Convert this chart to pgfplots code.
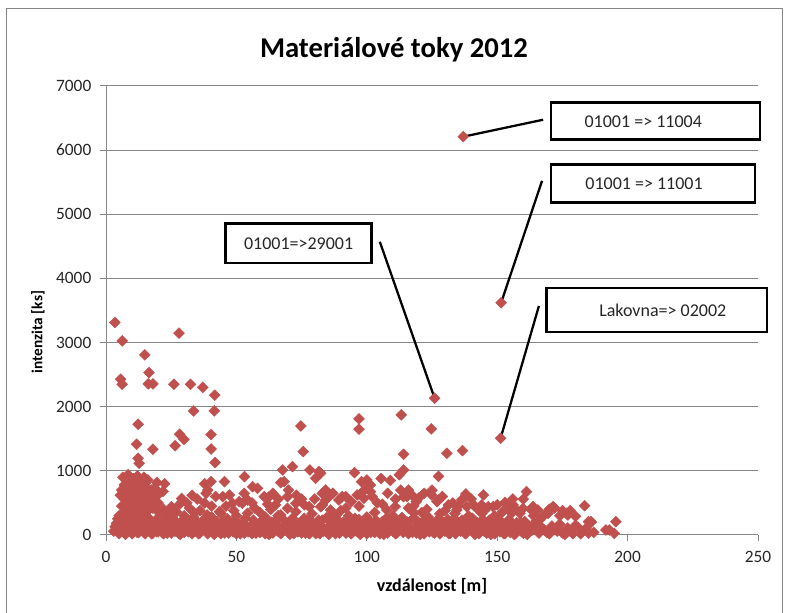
\documentclass[border=0pt]{standalone}
\usepackage{fontspec}
\setmainfont{Carlito}
\usepackage{pgfplots}
\pgfplotsset{compat=1.18}
\definecolor{mred}{RGB}{192,80,77}
\definecolor{gridgray}{RGB}{134,134,134}
\begin{document}
\begin{tikzpicture}
\path[use as bounding box] (0,0) rectangle (588.75pt,459.75pt);
\draw[gridgray, line width=0.75pt] (4.5pt,-5pt) -- (4.5pt,453pt) -- (586.5pt,453pt) -- (586.5pt,-5pt);
\begin{axis}[
  scale only axis, width=489pt, height=336.75pt,
  at={(79.5pt,58.5pt)}, anchor=south west,
  xmin=0, xmax=250, ymin=0, ymax=7000,
  xtick={0,50,100,150,200,250}, ytick={0,1000,2000,3000,4000,5000,6000,7000},
  axis x line*=bottom, axis y line*=left,
  axis line style={gridgray, line width=0.75pt, -},
  tick align=outside, major tick length=4.5pt,
  tick style={gridgray, line width=0.75pt},
  ymajorgrids, grid style={gridgray, line width=0.75pt},
  /pgf/number format/assume math mode=true,
  /pgf/number format/1000 sep={},
  tick label style={font=\fontsize{13}{15}\selectfont, text=black!85},
  yticklabel style={xshift=-3pt},
  xticklabel style={yshift=-4.5pt},
  clip=false,
]
\addplot[only marks, mark=square*, mark size=2.9pt,
  mark options={fill=mred, draw=mred, line width=0.3pt, rotate=45}]
table {
x y
137 6210
151.5 3620
126 2132
151.3 1508
113.2 1872
124.7 1654
130.7 1274
136.7 1315
114.1 1258
114.1 1014
97 1810
97 1649
74.7 1700
75.6 1300
3.4 3312
6.2 3026
5.6 2429
6.2 2350
14.9 2808
16.5 2532
16.2 2355
18.0 2355
28.0 3146
26 2350
32.4 2350
37.1 2303
41.7 2179
33.6 1934
41.5 1934
12.3 1727
11.7 1415
12.3 1196
12.7 1118
18.0 1337
26.5 1390
28.2 1570
29.9 1492
40.3 1565
40.3 1340
41.8 1130
127.5 915
5 300
5.5 620
6 450
6.5 900
7 780
7.5 380
8 650
8.5 940
8.5 520
9 820
9.5 300
10 580
10.4 700
10.5 880
11 760
11.1 480
11.5 380
12 920
12 600
12.5 280
13 800
13 520
13.5 420
14 700
14.5 900
14.9 620
15 340
15.5 740
16 860
16 480
16.5 560
17.5 700
18 420
18.7 730
18.7 500
19 600
20 360
20.5 650
21.9 680
22.5 800
25.1 440
24 330
27 360
28 470
29 570
30 300
31 500
32 420
33 620
34 340
35 560
36 380
37.8 800
38.4 650
37.8 500
39 700
38.8 312
40.3 832
40.5 450
42 600
43.5 364
44.8 598
45.4 832
44.1 338
6 700
7 560
8 300
9 420
9.5 760
10 640
11 860
12 700
13 350
14 480
15 800
16 650
17 420
18 580
19.5 820
20 500
22 400
23 300
47.3 624
48.5 494
51.1 520
52.3 494
53.1 910
54.3 546
54.3 338
56.2 753
58.1 728
60.7 598
62.6 598
63.2 400
66 300
67 312
67 816
67.7 1014
68.3 832
69.6 598
69.6 416
71.5 1066
72.8 494
72.8 364
76.0 260
77.9 442
78.2 1014
80.4 884
81.7 988
82.3 962
82.3 442
82.9 650
84.2 546
84.2 702
84.9 572
86.1 390
89.3 546
90.6 598
91.9 598
93 300
95.3 972
96.3 624
97.8 650
98 832
100 858
98.9 572
99.1 702
101.4 780
101.4 676
103 350
105.5 880
107.7 390
109 850
110.9 442
112.5 940
114.1 598
115.4 598
117.3 624
57 420
61 280
75 560
88 300
104 500
79 330
92 420
50 300
65 470
85 260
100 280
110 300
118 350
46 450
49 380
53 650
56 500
59 350
62 480
64 650
66 560
70 700
73 620
76 470
80 560
83 470
87 650
90 380
94 520
97 450
102 600
106 480
108 650
111 560
113 700
116 420
119 520
123 400
125 700
130 380
135 450
140 560
145 380
150 470
157 400
160 560
164 300
170 400
174 300
178 380
118 450
120 580
121 350
122 650
116 700
124.9 624
126.9 520
127.5 546
128 330
129 600
131.3 468
133 500
133.8 338
134.5 390
136.4 546
138 640
138.3 442
139 300
141 470
142 420
144.0 468
144.1 338
144.7 624
146.6 442
148.5 442
149 300
152 360
153 510
154.3 442
155.5 338
156 560
156.1 468
158.7 338
159.9 416
161.2 676
163.1 390
163.7 442
165.6 390
166.3 234
168 310
169.5 338
171.4 442
172 420
175 380
176.5 338
177.1 312
180 290
183.5 457
185 208
186 208
195.5 208
193 78
194.9 26
191.7 78
3 60
4 180
5 20
6 110
7 40
7.5 230
8 150
9 70
10 20
10.5 190
11 100
12 40
12.5 250
13 160
14 60
14.5 110
15 20
16 200
16.5 80
17 140
18 30
19 230
19.5 100
20 50
21 170
22 20
23 120
24 60
24.5 210
25 30
26 150
27 80
28 20
28.5 190
29 110
30 40
31 240
32 90
33 20
33.5 160
34 60
35 200
36 30
37 120
38 70
39 20
40 180
41 90
42 40
43 140
44 20
45 220
46 70
47 30
48 120
49 50
50 20
51 170
52 80
53 30
54 130
55 60
56 20
57 190
58 90
59 40
60 150
61 20
62 70
63 120
64 30
65 220
66 60
67 20
68 140
69 90
70 40
71 180
72 20
73 110
74 60
75 30
76 200
77 80
78 20
79 150
80 50
81 100
82 20
83 230
84 70
85 30
86 160
87 90
88 20
89 120
90 50
91 200
92 30
93 80
94 20
95 150
96 60
97 240
98 30
99 110
100 20
101 170
102 70
103 40
104 130
105 20
106 210
107 80
108 30
109 150
110 60
111 20
112 190
113 100
114 40
115 140
116 20
117 230
118 70
119 30
120 160
121 90
122 20
123 120
124 50
125 200
126 30
127 100
128 20
129 150
130 60
131 240
132 30
133 90
134 20
135 170
136 60
137 130
138 20
139 80
140 200
141 40
142 110
143 20
144 160
145 60
146 30
147 230
148 100
149 20
150 140
151 50
152 180
153 20
154 90
155 40
156 130
157 20
158 70
159 200
160 30
161 100
162 40
164 150
166 30
168 80
170 20
171 140
173 60
175 30
177 110
179 20
181 120
183 60
185 30
186 200
3.5 130
4.5 250
5.5 90
6.5 200
7.5 10
8.5 170
9.5 60
10.5 280
11.5 120
12.5 40
13.5 220
14.5 160
15.5 80
16.5 260
17.5 20
18.5 190
19.5 50
20.5 240
21.5 100
22.5 160
23.5 30
24.5 130
25.5 270
26.5 60
27.5 180
28.5 10
29.5 230
30.5 120
31.5 50
32.5 200
33.5 280
34.5 100
35.5 20
36.5 170
37.5 240
38.5 60
39.5 130
40.5 280
41.5 10
42.5 210
43.5 80
44.5 150
45.5 30
46.5 250
47.5 180
48.5 60
49.5 220
50.5 110
51.5 20
52.5 190
53.5 260
54.5 50
55.5 140
56.5 230
57.5 30
58.5 170
59.5 90
60.5 250
61.5 120
62.5 10
63.5 200
64.5 70
65.5 150
66.5 270
67.5 40
68.5 220
69.5 110
70.5 10
71.5 260
72.5 160
73.5 50
74.5 200
75.5 120
76.5 30
77.5 240
78.5 90
79.5 180
80.5 20
81.5 230
82.5 130
83.5 60
84.5 270
85.5 10
86.5 190
87.5 100
88.5 250
89.5 30
90.5 140
91.5 70
92.5 220
93.5 160
94.5 40
95.5 260
96.5 110
97.5 10
98.5 190
99.5 80
100.5 240
101.5 40
102.5 150
103.5 230
104.5 60
105.5 120
106.5 10
107.5 260
108.5 180
109.5 90
110.5 220
111.5 30
112.5 140
113.5 270
114.5 70
115.5 200
116.5 110
117.5 40
118.5 250
119.5 150
120.5 10
121.5 210
122.5 80
123.5 280
124.5 130
125.5 40
126.5 170
127.5 250
128.5 60
129.5 200
130.5 110
131.5 20
132.5 180
133.5 260
134.5 70
135.5 130
136.5 230
137.5 30
138.5 180
139.5 100
140.5 260
141.5 10
142.5 190
143.5 60
144.5 240
145.5 120
146.5 170
147.5 10
148.5 210
149.5 70
150.5 250
151.5 100
152.5 20
153.5 160
154.5 240
155.5 80
156.5 10
157.5 190
158.5 120
159.5 50
160.5 210
161.5 10
162.5 130
163.5 80
165 220
167 120
169 40
172 90
174 170
176 10
178 60
180 150
182 20
184 100
187 40
};
% callout lines
\draw[black, line width=1.7pt] (axis cs:167.6,6474) -- (axis cs:137,6210);
\draw[black, line width=1.7pt] (axis cs:167.2,5522) -- (axis cs:151.5,3620);
\draw[black, line width=1.7pt] (axis cs:105,4571) -- (axis cs:126,2132);
\draw[black, line width=1.7pt] (axis cs:166,3572) -- (axis cs:151.3,1508);
% callout boxes
\draw[black, line width=2pt, fill=white] (axis cs:170.6,6739) rectangle (axis cs:250.8,6162);
\draw[black, line width=2pt, fill=white] (axis cs:170.6,5772) rectangle (axis cs:248.9,5179);
\draw[black, line width=2pt, fill=white] (axis cs:45.8,4852) rectangle (axis cs:101.9,4243);
\draw[black, line width=2pt, fill=white] (axis cs:169,3853) rectangle (axis cs:253.4,3167);
\node[font=\fontsize{13.5}{15}\selectfont, text=black!85] at (axis cs:206,6450) {01001 => 11004};
\node[font=\fontsize{13.5}{15}\selectfont, text=black!85] at (axis cs:206.3,5475) {01001 => 11001};
\node[font=\fontsize{13.5}{15}\selectfont, text=black!85] at (axis cs:73.85,4547) {01001=>29001};
\node[font=\fontsize{13.5}{15}\selectfont, text=black!85] at (axis cs:213.5,3510) {Lakovna=> 02002};
\end{axis}
\node[anchor=base, font=\bfseries\fontsize{21.5}{24}\selectfont] at (295.5pt,416.25pt) {Materiálové toky 2012};
\node[anchor=base, font=\bfseries\fontsize{13.5}{15}\selectfont] at (324pt,15.75pt) {vzdálenost [m]};
\node[rotate=90, font=\bfseries\fontsize{11.5}{13}\selectfont] at (28.5pt,210.75pt) {intenzita [ks]};
\end{tikzpicture}
\end{document}
